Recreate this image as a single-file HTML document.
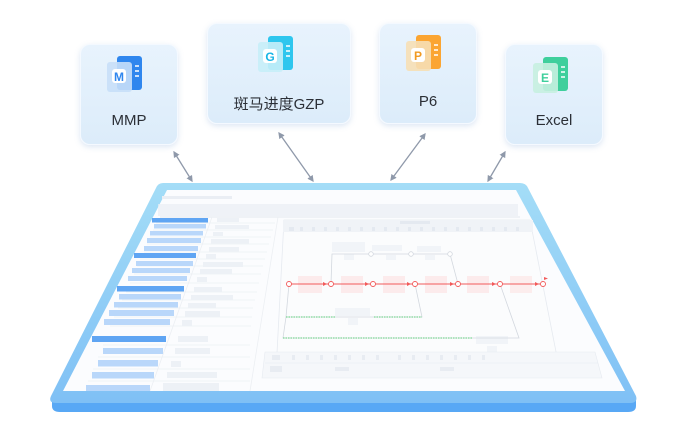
<!DOCTYPE html>
<html><head><meta charset="utf-8"><style>
html,body{margin:0;padding:0;background:#fff;}
body{width:680px;height:440px;overflow:hidden;position:relative;font-family:"Liberation Sans","Noto Sans CJK SC",sans-serif;}
.box{position:absolute;background:linear-gradient(180deg,#e8f3fd,#dcecfa);border:1.5px solid #f4f9ff;border-radius:10px;box-shadow:0 2px 6px rgba(120,160,210,.25);}
.lbl{position:absolute;width:100%;text-align:center;font-size:15px;color:#2b2f36;}
</style></head><body>
<div class="box" style="left:80px;top:44px;width:96px;height:99px"><div class="lbl" style="top:67px">MMP</div></div>
<div class="box" style="left:207px;top:23px;width:142px;height:99px"><div class="lbl" style="top:69px">斑马进度GZP</div></div>
<div class="box" style="left:379px;top:23px;width:96px;height:99px"><div class="lbl" style="top:69px">P6</div></div>
<div class="box" style="left:505px;top:44px;width:96px;height:99px"><div class="lbl" style="top:67px">Excel</div></div>
<svg width="680" height="440" style="position:absolute;left:0;top:0">
<defs>
<linearGradient id="fr" x1="0" y1="0" x2="0" y2="1"><stop offset="0" stop-color="#a4ddf7"/><stop offset="1" stop-color="#7fc0f5"/></linearGradient>
<marker id="ah" viewBox="0 0 10 10" refX="8" refY="5" markerWidth="5" markerHeight="5" orient="auto-start-reverse"><path d="M0,0L10,5L0,10z" fill="#8f99aa"/></marker>
</defs>
<g transform="translate(107,56)"><rect x="10" y="0" width="25" height="34" rx="3" fill="#2f86ee"/><path d="M28 10h4M28 15h4M28 20h4" stroke="#fff" stroke-width="1.5"/><rect x="0" y="6" width="25" height="30" rx="3" fill="#c8dff8" opacity=".9"/><rect x="5" y="13" width="14" height="14" rx="3" fill="#fff"/><text x="12" y="25" font-size="12" font-weight="bold" fill="#2f86ee" text-anchor="middle">M</text></g>
<g transform="translate(258,36)"><rect x="10" y="0" width="25" height="34" rx="3" fill="#2ec6ee"/><path d="M28 10h4M28 15h4M28 20h4" stroke="#fff" stroke-width="1.5"/><rect x="0" y="6" width="25" height="30" rx="3" fill="#c6eef8" opacity=".9"/><rect x="5" y="13" width="14" height="14" rx="3" fill="#fff"/><text x="12" y="25" font-size="12" font-weight="bold" fill="#19b6e6" text-anchor="middle">G</text></g>
<g transform="translate(406,35)"><rect x="10" y="0" width="25" height="34" rx="3" fill="#fba532"/><path d="M28 10h4M28 15h4M28 20h4" stroke="#fff" stroke-width="1.5"/><rect x="0" y="6" width="25" height="30" rx="3" fill="#f6dfb5" opacity=".9"/><rect x="5" y="13" width="14" height="14" rx="3" fill="#fff"/><text x="12" y="25" font-size="12" font-weight="bold" fill="#f19a22" text-anchor="middle">P</text></g>
<g transform="translate(533,57)"><rect x="10" y="0" width="25" height="34" rx="3" fill="#3fcf9c"/><path d="M28 10h4M28 15h4M28 20h4" stroke="#fff" stroke-width="1.5"/><rect x="0" y="6" width="25" height="30" rx="3" fill="#c7efe0" opacity=".9"/><rect x="5" y="13" width="14" height="14" rx="3" fill="#fff"/><text x="12" y="25" font-size="12" font-weight="bold" fill="#3fcf9c" text-anchor="middle">E</text></g>
<g stroke="#8f99aa" stroke-width="1.3" marker-start="url(#ah)" marker-end="url(#ah)">
<line x1="174" y1="152" x2="192" y2="181"/><line x1="279" y1="133" x2="313" y2="181"/><line x1="425" y1="134" x2="391" y2="180"/><line x1="505" y1="152" x2="488" y2="181"/>
</g>
<path d="M52,400 L52,406 Q52,412 60,412 L628,412 Q636,412 636,406 L636,400 Z" fill="#58a8f5"/>
<path d="M163,183 L520,183 Q526,183 528,188 L636,396 Q638,403 630,403 L56,403 Q48,403 51,396 L156,188 Q158,183 163,183Z" fill="url(#fr)"/>
<path d="M167,190 L516,190 L625,391 L63,391 Z" fill="#fbfcfe"/>
<g fill="#eaeef4">
<rect x="162" y="196" width="70" height="3"/>
<rect x="158" y="204" width="360" height="12" opacity=".7"/>
</g>
<path d="M160,217 L520,217" stroke="#e3e8ee"/>
<g stroke="#eceff3" stroke-width="0.8">
<path d="M212,217 L150,391 M278,217 L250,391"/>
<path d="M156,223 L275,223 M153,230 L273,230 M150,237 L271,237 M147,244 L269,244 M144,252 L267,252 M140,259 L265,259 M137,266 L263,266 M134,274 L261,274 M130,283 L259,283 M126,292 L257,292 M122,300 L255,300 M118,308 L253,308 M114,317 L252,317 M110,326 L251,326 M103,345 L250,345 M98,357 L250,357 M93,369 L250,369 M88,381 L250,381"/>
</g>
<g fill="#b9d7fa">
<rect x="154" y="224" width="52" height="4.5"/><rect x="150" y="231" width="53" height="4.5"/><rect x="147" y="238" width="54" height="5"/><rect x="144" y="246" width="54" height="5"/>
<rect x="136" y="261" width="57" height="5"/><rect x="132" y="268" width="58" height="5"/><rect x="128" y="276" width="59" height="5"/>
<rect x="119" y="294" width="62" height="5.5"/><rect x="114" y="302" width="64" height="5.5"/><rect x="109" y="310" width="65" height="6"/><rect x="104" y="319" width="66" height="6"/>
<rect x="103" y="348" width="60" height="6"/><rect x="98" y="360" width="60" height="6.5"/><rect x="92" y="372" width="62" height="6.5"/><rect x="86" y="385" width="64" height="6"/>
</g>
<g fill="#5fa5f3">
<rect x="152" y="218" width="56" height="4.5"/><rect x="134" y="253" width="62" height="5"/><rect x="117" y="286" width="67" height="5.5"/><rect x="92" y="336" width="74" height="6"/>
</g>
<g fill="#edf1f6">
<rect x="217" y="218" width="22" height="4"/><rect x="215" y="225" width="34" height="4"/><rect x="213" y="232" width="10" height="4"/><rect x="211" y="239" width="38" height="4.5"/><rect x="209" y="247" width="30" height="4.5"/><rect x="206" y="254" width="10" height="5"/><rect x="203" y="262" width="40" height="5"/><rect x="200" y="269" width="32" height="5"/><rect x="197" y="277" width="10" height="5"/><rect x="194" y="287" width="28" height="5"/><rect x="191" y="295" width="42" height="5"/><rect x="188" y="303" width="28" height="5"/><rect x="185" y="311" width="35" height="6"/><rect x="182" y="320" width="10" height="6"/><rect x="178" y="336" width="30" height="6"/><rect x="175" y="348" width="35" height="6"/><rect x="171" y="361" width="10" height="6"/><rect x="167" y="372" width="50" height="6"/><rect x="163" y="383" width="56" height="8"/>
</g>
<path d="M284,220 L530,220 L560,372 L276,372 Z" fill="#fbfcfd" stroke="#e6eaf0" stroke-width="0.8"/>
<rect x="283" y="220" width="250" height="12" fill="#f0f3f7"/>
<g fill="#e4e9f0"><rect x="289" y="227" width="5" height="4"/><rect x="300" y="227" width="3" height="4"/><rect x="312" y="227" width="3" height="4"/><rect x="324" y="227" width="3" height="4"/><rect x="336" y="227" width="3" height="4"/><rect x="348" y="227" width="3" height="4"/><rect x="360" y="227" width="3" height="4"/><rect x="372" y="227" width="3" height="4"/><rect x="384" y="227" width="3" height="4"/><rect x="396" y="227" width="3" height="4"/><rect x="408" y="227" width="3" height="4"/><rect x="420" y="227" width="3" height="4"/><rect x="432" y="227" width="3" height="4"/><rect x="444" y="227" width="3" height="4"/><rect x="456" y="227" width="3" height="4"/><rect x="468" y="227" width="3" height="4"/><rect x="480" y="227" width="3" height="4"/><rect x="492" y="227" width="3" height="4"/><rect x="504" y="227" width="3" height="4"/><rect x="516" y="227" width="3" height="4"/>
<rect x="400" y="221" width="30" height="3"/></g>
<g fill="#f1f4f8"><rect x="332" y="242" width="33" height="10"/><rect x="372" y="245" width="30" height="6"/><rect x="417" y="246" width="24" height="6"/><rect x="344" y="254" width="10" height="6"/><rect x="386" y="255" width="10" height="5"/><rect x="425" y="255" width="10" height="5"/><rect x="335" y="308" width="35" height="8"/><rect x="348" y="318" width="10" height="7"/><rect x="476" y="336" width="32" height="8"/><rect x="487" y="346" width="10" height="6"/></g>
<g fill="#fde8e8" opacity=".8"><rect x="298" y="276" width="24" height="17"/><rect x="341" y="276" width="22" height="17"/><rect x="383" y="276" width="22" height="17"/><rect x="425" y="276" width="22" height="17"/><rect x="467" y="276" width="22" height="17"/><rect x="510" y="276" width="22" height="17"/></g>
<g fill="none" stroke="#d3d8df" stroke-width="0.8">
<path d="M331,284 L332,254 L450,254 L458,284"/>
<path d="M289,284 L286,317 L422,317 L415,284"/>
<path d="M500,284 L519,338 L283,338 L286,317"/>
</g>
<g fill="#fff" stroke="#d3d8df" stroke-width="0.8"><circle cx="371" cy="254" r="2.3"/><circle cx="411" cy="254" r="2.3"/><circle cx="450" cy="254" r="2.3"/></g>
<g stroke="#5fd07a" stroke-width="1" stroke-dasharray="1.5 1"><line x1="286" y1="317" x2="335" y2="317"/><line x1="374" y1="317" x2="422" y2="317"/><line x1="283" y1="338" x2="472" y2="338"/></g>
<line x1="289" y1="284" x2="543" y2="284" stroke="#f25a5a" stroke-width="1"/>
<g fill="#f25a5a"><path d="M323,282l4,2l-4,2z"/><path d="M365,282l4,2l-4,2z"/><path d="M407,282l4,2l-4,2z"/><path d="M450,282l4,2l-4,2z"/><path d="M492,282l4,2l-4,2z"/><path d="M535,282l4,2l-4,2z"/><path d="M544,277l4,1.5l-4,1.5z"/></g>
<g fill="#fff" stroke="#f25a5a" stroke-width="0.9"><circle cx="289" cy="284" r="2.5"/><circle cx="331" cy="284" r="2.5"/><circle cx="373" cy="284" r="2.5"/><circle cx="415" cy="284" r="2.5"/><circle cx="458" cy="284" r="2.5"/><circle cx="500" cy="284" r="2.5"/><circle cx="543" cy="284" r="2.5"/></g>
<path d="M265,352 L595,352 L602,378 L262,378 Z" fill="#f5f7fa" stroke="#e6eaf0" stroke-width="0.6"/>
<line x1="265" y1="363" x2="598" y2="363" stroke="#e6eaf0" stroke-width="0.6"/>
<g fill="#e8ecf2"><rect x="272" y="355" width="8" height="5"/><rect x="270" y="366" width="12" height="6"/><rect x="335" y="367" width="14" height="4"/><rect x="440" y="367" width="14" height="4"/>
<rect x="292" y="355" width="3" height="5"/><rect x="306" y="355" width="3" height="5"/><rect x="320" y="355" width="3" height="5"/><rect x="334" y="355" width="3" height="5"/><rect x="348" y="355" width="3" height="5"/><rect x="362" y="355" width="3" height="5"/><rect x="376" y="355" width="3" height="5"/><rect x="398" y="355" width="3" height="5"/><rect x="412" y="355" width="3" height="5"/><rect x="426" y="355" width="3" height="5"/><rect x="440" y="355" width="3" height="5"/><rect x="454" y="355" width="3" height="5"/><rect x="468" y="355" width="3" height="5"/><rect x="482" y="355" width="3" height="5"/></g>
</svg>
</body></html>
